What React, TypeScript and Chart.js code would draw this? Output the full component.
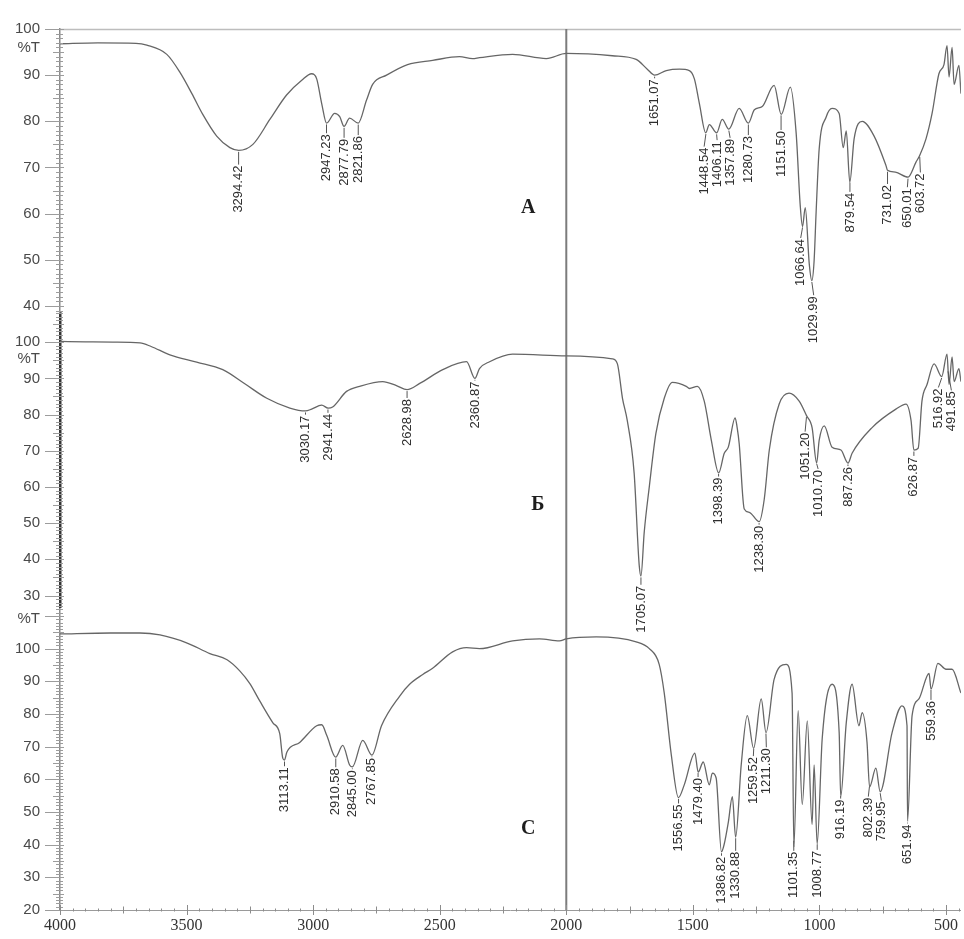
import React, { useEffect, useRef } from "react";
import { Chart, registerables } from "chart.js";
Chart.register(...registerables);

// ---------- Panel A ----------
const aWave = [4000, 3850, 3700, 3657, 3578, 3526, 3479, 3436, 3381, 3329, 3294, 3238, 3171, 3105, 3045, 3006, 2986, 2966, 2947, 2915, 2895, 2878, 2856, 2822, 2789, 2765, 2710, 2627, 2528, 2422, 2370, 2343, 2212, 2079, 2000, 1818, 1724, 1680, 1651, 1605, 1553, 1514, 1494, 1474, 1449, 1435, 1406, 1384, 1358, 1317, 1281, 1257, 1226, 1179, 1151, 1115, 1092, 1076, 1067, 1056, 1040, 1030, 1021, 1013, 1001, 973, 950, 922, 906, 894, 880, 863, 831, 784, 737, 731, 700, 650, 619, 604, 579, 555, 528, 508, 496, 488, 476, 468, 449, 441];
const aT = [96.8, 97.0, 96.9, 96.5, 94.5, 90.6, 86.0, 81.5, 76.8, 74.3, 73.7, 75.0, 80.4, 85.7, 88.9, 90.3, 89.2, 83.8, 79.6, 81.7, 81.0, 78.9, 80.7, 79.6, 84.6, 88.0, 90.0, 92.3, 93.2, 94.0, 93.6, 93.8, 94.5, 93.6, 94.7, 94.2, 93.4, 91.3, 90.0, 91.0, 91.3, 91.0, 89.2, 83.8, 77.5, 79.3, 77.5, 80.4, 78.3, 82.8, 79.6, 82.5, 83.2, 87.8, 81.5, 87.4, 77.5, 61.9, 57.2, 61.3, 49.0, 45.5, 49.8, 60.4, 74.0, 81.0, 82.8, 81.7, 74.3, 77.9, 66.8, 76.2, 80.0, 76.8, 70.4, 69.4, 69.0, 67.9, 71.1, 72.6, 76.2, 81.7, 90.3, 92.3, 96.4, 89.6, 96.0, 88.0, 92.1, 86.0];
const aPeaks = [3294.42, 2947.23, 2877.79, 2821.86, 1651.07, 1448.54, 1406.11, 1357.89, 1280.73, 1151.5, 1066.64, 1029.99, 879.54, 731.02, 650.01, 603.72];
const aPeakT = [70.4, 77.2, 76.2, 76.8, 89.1, 74.3, 75.7, 76.2, 76.8, 77.9, 54.5, 42.1, 64.5, 66.2, 65.5, 68.7];
const aTicks = [40, 50, 60, 70, 80, 90, 100];

// ---------- Panel Б ----------
const bWave = [4000, 3900, 3791, 3684, 3640, 3566, 3460, 3357, 3270, 3183, 3092, 3030, 3006, 2966, 2941, 2923, 2868, 2816, 2725, 2671, 2629, 2579, 2488, 2394, 2361, 2343, 2303, 2212, 2000, 1818, 1798, 1778, 1759, 1732, 1712, 1705, 1692, 1672, 1646, 1613, 1581, 1526, 1514, 1482, 1455, 1427, 1398, 1376, 1360, 1333, 1325, 1317, 1297, 1277, 1238, 1218, 1198, 1159, 1120, 1080, 1051, 1029, 1011, 1001, 981, 950, 915, 887, 871, 792, 698, 658, 638, 627, 610, 595, 575, 547, 517, 496, 488, 476, 468, 449, 441];
const bT = [100.2, 100.1, 100.0, 99.8, 98.8, 96.5, 94.5, 92.4, 88.5, 84.5, 81.8, 81.0, 81.5, 82.6, 81.8, 82.1, 86.4, 87.8, 89.1, 88.0, 86.9, 88.6, 92.4, 94.6, 90.0, 92.7, 94.6, 96.7, 96.2, 95.4, 94.0, 84.5, 78.3, 63.9, 38.4, 35.4, 47.6, 60.1, 74.8, 84.5, 88.9, 87.8, 87.2, 87.8, 83.7, 72.9, 63.9, 69.3, 71.0, 79.1, 76.4, 72.0, 53.9, 53.0, 50.4, 56.6, 70.2, 82.9, 85.9, 83.7, 79.7, 76.4, 66.6, 72.9, 76.9, 71.0, 70.2, 66.6, 69.3, 76.4, 81.5, 82.9, 78.3, 70.2, 70.7, 83.7, 88.3, 94.0, 90.5, 96.7, 88.3, 95.9, 89.1, 92.7, 89.1];
const bPeaks = [3030.17, 2941.44, 2628.98, 2360.87, 1705.07, 1398.39, 1238.3, 1051.2, 1010.7, 887.26, 626.87, 516.92, 491.85];
const bPeakT = [79.7, 80.2, 84.3, 89.1, 32.7, 62.6, 49.3, 75.0, 64.7, 65.5, 68.3, 87.2, 86.4];
const bTicks = [30, 40, 50, 60, 70, 80, 90, 100];

// ---------- Panel С ----------
const cWave = [4000, 3800, 3684, 3605, 3500, 3408, 3340, 3290, 3250, 3211, 3159, 3132, 3120, 3113, 3104, 3053, 2986, 2966, 2946, 2911, 2883, 2856, 2845, 2804, 2768, 2730, 2658, 2619, 2567, 2528, 2449, 2394, 2343, 2212, 2106, 2027, 2000, 1882, 1724, 1672, 1633, 1613, 1585, 1557, 1534, 1492, 1479, 1459, 1435, 1423, 1408, 1387, 1376, 1360, 1344, 1331, 1309, 1285, 1260, 1230, 1211, 1179, 1131, 1108, 1101, 1084, 1068, 1048, 1029, 1021, 1009, 989, 950, 922, 916, 894, 871, 844, 831, 812, 802, 777, 760, 713, 674, 654, 652, 634, 607, 567, 559, 532, 500, 476, 441];
const cT = [104.5, 104.8, 104.8, 104.2, 101.8, 98.5, 96.6, 93.2, 89.3, 84.0, 77.3, 74.0, 66.5, 65.9, 68.3, 71.3, 76.4, 76.7, 73.4, 66.8, 70.4, 64.4, 63.8, 71.9, 67.4, 76.4, 85.5, 89.1, 92.1, 94.0, 99.0, 100.3, 100.0, 102.4, 103.0, 102.4, 103.0, 103.6, 102.1, 100.0, 95.2, 86.4, 67.4, 54.4, 58.3, 68.0, 62.2, 65.3, 58.3, 61.9, 60.4, 37.8, 40.2, 46.8, 54.7, 42.3, 64.4, 79.5, 69.5, 84.6, 74.3, 90.6, 95.2, 86.4, 39.3, 81.0, 52.3, 77.9, 46.2, 64.4, 40.2, 72.5, 89.1, 74.3, 54.7, 77.3, 89.1, 76.4, 80.4, 71.3, 57.7, 63.4, 56.2, 74.3, 82.5, 76.4, 47.1, 79.5, 84.6, 92.4, 87.6, 95.5, 93.7, 93.7, 86.4];
const cPeaks = [3113.11, 2910.58, 2845.0, 2767.85, 1556.55, 1479.4, 1386.82, 1330.88, 1259.52, 1211.3, 1101.35, 1008.77, 916.19, 802.39, 759.95, 651.94, 559.36];
const cPeakT = [63.7, 63.4, 62.8, 66.5, 52.3, 60.4, 36.3, 37.8, 66.8, 69.5, 37.8, 38.1, 53.8, 54.4, 53.2, 46.2, 84.0];
const cTicks = [20, 30, 40, 50, 60, 70, 80, 90, 100];

// ---------- X axis ----------
const xTicks = [4000, 3500, 3000, 2500, 2000, 1500, 1000, 500];
const panelLetters = ["А", "Б", "С"];
const yUnit = "%T";

function interp(wave: number[], t: number[], w: number) {
  for (let i = 0; i < wave.length - 1; i++) {
    const w0 = wave[i], w1 = wave[i + 1];
    if (w <= w0 && w >= w1) {
      const f = w0 === w1 ? 0 : (w0 - w) / (w0 - w1);
      return t[i] + f * (t[i + 1] - t[i]);
    }
  }
  return t[t.length - 1];
}

export default function App() {
  const ref = useRef<HTMLCanvasElement>(null);

  useEffect(() => {
    if (!ref.current) return;
    const panels = [
      { id: "yA", wave: aWave, t: aT, peaks: aPeaks, peakT: aPeakT, ticks: aTicks, min: 38.5, max: 100, weight: 289, letter: panelLetters[0], letterW: 2150, letterT: 61.3, pctT: 96, bColor: "#8a8a8a", bWidth: 1.5 },
      { id: "yB", wave: bWave, t: bT, peaks: bPeaks, peakT: bPeakT, ticks: bTicks, min: 26.7, max: 108.1, weight: 300, letter: panelLetters[1], letterW: 2112, letterT: 55.2, pctT: 95.4, bColor: "#333333", bWidth: 2.5 },
      { id: "yC", wave: cWave, t: cT, peaks: cPeaks, peakT: cPeakT, ticks: cTicks, min: 20, max: 112.6, weight: 308, letter: panelLetters[2], letterW: 2150, letterT: 45, pctT: 109, bColor: "#8a8a8a", bWidth: 1.5 },
    ];

    const yScale = (p: any) => ({
      type: "linear",
      position: "left",
      stack: "panels",
      stackWeight: p.weight,
      min: p.min,
      max: p.max,
      grid: { display: false, drawTicks: false },
      border: { display: true, color: p.bColor, width: p.bWidth },
      ticks: {
        padding: 20,
        autoSkip: false,
        color: "#4a4a4a",
        font: { family: "'Liberation Sans', Arial, sans-serif", size: 15 },
        callback: (v: any) => String(v),
      },
      afterBuildTicks: (s: any) => {
        s.ticks = p.ticks.map((v: number) => ({ value: v }));
      },
      afterFit: (s: any) => {
        s.width = 60;
      },
    });

    const scales: any = {
      x: {
        type: "linear",
        position: "bottom",
        reverse: true,
        min: 441,
        max: 4000,
        grid: { display: false, drawTicks: false },
        border: { display: true, color: "#9a9a9a", width: 1 },
        ticks: {
          padding: 6,
          autoSkip: false,
          color: "#333",
          maxRotation: 0,
          font: { family: "'Liberation Serif', 'Times New Roman', serif", size: 16 },
          callback: (v: any) => String(v),
        },
        afterBuildTicks: (s: any) => {
          s.ticks = xTicks.map((v) => ({ value: v }));
        },
        afterFit: (s: any) => {
          s.height = 21;
        },
      },
      yC: yScale(panels[2]),
      yB: yScale(panels[1]),
      yA: yScale(panels[0]),
    };

    const decor = {
      id: "decor",
      beforeDatasetsDraw(chart: any) {
        const { ctx, chartArea } = chart;
        const xs = chart.scales.x;
        ctx.save();
        ctx.strokeStyle = "#bdbdbd";
        ctx.lineWidth = 1.5;
        ctx.beginPath();
        ctx.moveTo(chartArea.left, chartArea.top + 0.5);
        ctx.lineTo(chartArea.right, chartArea.top + 0.5);
        ctx.stroke();
        const x2000 = xs.getPixelForValue(2000);
        ctx.strokeStyle = "#7c7c7c";
        ctx.lineWidth = 2;
        ctx.beginPath();
        ctx.moveTo(x2000, chartArea.top);
        ctx.lineTo(x2000, chartArea.bottom);
        ctx.stroke();
        ctx.restore();
      },
      afterDraw(chart: any) {
        const { ctx, chartArea } = chart;
        const xs = chart.scales.x;
        ctx.save();
        for (const p of panels) {
          const s = chart.scales[p.id];
          const ax = chartArea.left;
          ctx.strokeStyle = "#9c9c9c";
          ctx.lineWidth = 1;
          for (let v = Math.ceil(p.min); v <= Math.floor(p.max); v++) {
            const y = Math.round(s.getPixelForValue(v)) + 0.5;
            let l = 4, r = 3;
            if (v % 10 === 0) { l = 15; r = 4; }
            else if (v % 5 === 0) { l = 7; r = 4; }
            ctx.beginPath();
            ctx.moveTo(ax - l, y);
            ctx.lineTo(ax + r, y);
            ctx.stroke();
          }
          ctx.fillStyle = "#4a4a4a";
          ctx.font = "15px 'Liberation Sans', Arial, sans-serif";
          ctx.textAlign = "right";
          ctx.textBaseline = "middle";
          ctx.fillText(yUnit, 40, s.getPixelForValue(p.pctT));
          ctx.fillStyle = "#1e1e1e";
          ctx.font = "bold 20px 'Liberation Serif', 'Times New Roman', serif";
          ctx.textAlign = "center";
          ctx.fillText(p.letter, xs.getPixelForValue(p.letterW), s.getPixelForValue(p.letterT));
        }
        const by = chartArea.bottom;
        ctx.strokeStyle = "#8c8c8c";
        ctx.lineWidth = 1;
        for (let w = 450; w <= 4000; w += 50) {
          if (w < xs.min) continue;
          const x = Math.round(xs.getPixelForValue(w)) + 0.5;
          const len = w % 500 === 0 ? 5 : w % 250 === 0 ? 3.5 : 1.5;
          ctx.beginPath();
          ctx.moveTo(x, by - len);
          ctx.lineTo(x, by + len);
          ctx.stroke();
        }
        ctx.font = "13px 'Liberation Sans', Arial, sans-serif";
        for (const p of panels) {
          const s = chart.scales[p.id];
          const items = p.peaks.map((w: number, i: number) => ({
            w,
            px: xs.getPixelForValue(w),
            lx: xs.getPixelForValue(w),
            cy: s.getPixelForValue(interp(p.wave, p.t, w)),
            ty: s.getPixelForValue(p.peakT[i]),
          }));
          items.sort((a: any, b: any) => a.px - b.px);
          const gap = 13;
          for (let it = 0; it < 30; it++) {
            for (let i = 1; i < items.length; i++) {
              const d = items[i].lx - items[i - 1].lx;
              if (d < gap) {
                const sh = (gap - d) / 2;
                items[i].lx += sh;
                items[i - 1].lx -= sh;
              }
            }
          }
          for (const it of items) {
            if (it.ty - it.cy > 3) {
              ctx.strokeStyle = "#555";
              ctx.lineWidth = 1;
              ctx.beginPath();
              ctx.moveTo(it.px, it.cy + 1.5);
              ctx.lineTo(it.lx, it.ty - 1);
              ctx.stroke();
            }
            ctx.save();
            ctx.translate(it.lx, it.ty);
            ctx.rotate(-Math.PI / 2);
            ctx.fillStyle = "#2e2e2e";
            ctx.textAlign = "right";
            ctx.textBaseline = "middle";
            ctx.fillText(it.w.toFixed(2), 0, 0);
            ctx.restore();
          }
        }
        ctx.restore();
      },
    };

    const chart = new Chart(ref.current, {
      type: "line",
      data: {
        datasets: panels.map((p) => ({
          data: p.wave.map((w: number, i: number) => ({ x: w, y: p.t[i] })),
          yAxisID: p.id,
          xAxisID: "x",
          borderColor: "#666666",
          borderWidth: 1.3,
          pointRadius: 0,
          fill: false,
          cubicInterpolationMode: "monotone",
        })),
      },
      options: {
        responsive: false,
        animation: false,
        layout: { padding: { top: 21, left: 0, right: 0, bottom: 0 } },
        plugins: { legend: { display: false }, tooltip: { enabled: false } },
        scales,
      } as any,
      plugins: [decor],
    });
    return () => chart.destroy();
  }, []);

  return (
    <div style={{ position: "absolute", left: 0, top: 0, width: 964, height: 939, background: "#fff" }}>
      <canvas ref={ref} width={964} height={939} style={{ display: "block" }} />
    </div>
  );
}
